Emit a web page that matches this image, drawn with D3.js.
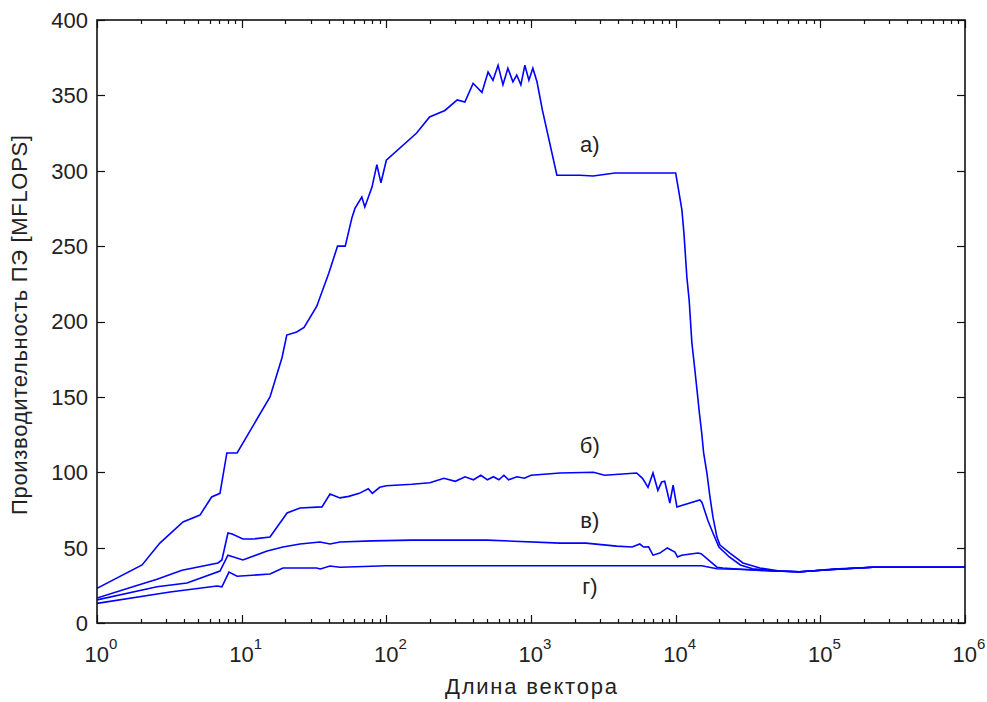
<!DOCTYPE html>
<html>
<head>
<meta charset="utf-8">
<script src="https://cdn.jsdelivr.net/npm/d3@7"></script>
<style>
body { margin: 0; background: #fff; }
text { font-family: "Liberation Sans", Arial, sans-serif; fill: #222; }
</style>
</head>
<body>
<svg width="987" height="702"></svg>
<script>
var width = 987;
var height = 702;
var margin = {left: 97, right: 22, top: 20, bottom: 79};

// series а)
var xA = [1, 2.05, 2.72, 3.93, 5.15, 6.2, 7.08, 7.9, 9.3, 15.7, 19, 20.5, 24, 27, 33, 40, 46, 52,
  57.8, 60.7, 67.7, 71, 79.5, 86, 91.8, 100, 162, 199, 254, 309, 349, 398, 458, 505, 546, 592,
  640, 692, 750, 797, 851, 907, 967, 1030, 1100, 1200, 1510, 2180, 2690, 3800, 10000, 10400,
  11040, 11400, 11950, 12400, 12940, 13500, 14030, 14600, 15140, 15600, 16440, 17260, 18120,
  19290, 20240, 23700, 29200, 38200, 52500, 72000, 122000, 230000, 1000000];
var yA = [23, 38.5, 53, 67, 71.6, 83.6, 86, 112.8, 112.8, 150, 176, 191, 193, 196, 210, 232, 250, 250,
  268.7, 275, 282.6, 276, 289, 304, 292, 307, 325, 335.7, 340, 347, 345.6, 358, 352, 365.5, 360, 370,
  357, 368, 359, 363.5, 357, 370, 360, 368, 359, 340, 297, 297, 296.5, 298.5, 298.5, 289,
  274, 259, 229.5, 214, 186, 170, 155, 139, 126, 113, 99.5, 83.6, 70,
  57, 51.7, 46.4, 39.8, 36.5, 34.5, 33.8, 35.8, 37, 37];

// series б)
var xB = [1, 1.77, 2.6, 3.87, 6.86, 7.3, 8.04, 8.6, 10.2, 12, 15.7, 20.6, 25.3, 35.9, 40.8, 47.8,
  55, 65, 75, 80, 90, 100, 150, 200, 250, 300, 350, 400, 450, 500, 550, 600, 650, 700, 800, 900,
  1000, 1590, 2700, 3230, 5370, 5900, 6440, 6970, 7530, 8000, 8400, 9120, 9600, 10200, 11000,
  14700, 15200, 16700, 18100, 19900, 23500, 28000, 34000, 50000, 72000, 122000, 230000, 1000000];
var yB = [16.6, 24, 29, 35, 39.8, 41.8, 59.7, 59, 55.7, 55.7, 57, 73, 76.3, 77, 85.6, 83,
  84, 86, 89, 86, 90, 91, 92, 93, 96, 94, 97, 95, 98, 95, 97, 95, 98, 95, 97, 96,
  98, 99.5, 100, 98, 99.5, 96, 90, 99.5, 88, 93.5, 94, 79.6, 91.5, 77, 78,
  81.6, 80, 68, 59.7, 50.4, 43.8, 38.5, 36, 34.5, 34, 35.5, 37, 37];

// series в)
var xC = [1, 2.6, 4.19, 7.08, 8.04, 10.2, 15, 19.3, 25.3, 34.8, 40.8, 47.8, 80, 150, 500, 1590,
  2400, 3900, 5000, 5650, 6000, 6500, 6970, 7770, 8750, 9880, 10300, 11000, 14260, 15000, 19290,
  21200, 30000, 45000, 72000, 122000, 230000, 1000000];
var yC = [15.3, 24, 26.5, 34.5, 45, 41.8, 47.8, 50.4, 52.4, 53.7, 52.4, 53.7, 54.5, 55, 55, 53,
  53, 51, 50.4, 52.4, 50.4, 50.5, 45, 46.4, 49.8, 47, 43.8, 45, 46.4, 46, 37,
  36.5, 35.5, 34.5, 34, 35.5, 37, 37];

// series г)
var xD = [1, 3.2, 6.75, 7.3, 8.17, 9.3, 15.7, 19.3, 33, 35, 40.8, 47.8, 70, 100, 1000, 15140,
  19290, 30000, 50000, 72000, 122000, 230000, 1000000];
var yD = [13, 20.6, 24.5, 24, 33.8, 31, 32.5, 36.5, 36.5, 35.8, 37.8, 37, 37.5, 38, 38, 38,
  36, 35.5, 34.5, 34, 35.5, 37, 37];

var seriesNames = ["а)", "б)", "в)", "г)"];
var labelX = [2550, 2550, 2550, 2550];
var labelY = [318, 118, 68, 24.5];

var yTicks = [0, 50, 100, 150, 200, 250, 300, 350, 400];
var xExps = [0, 1, 2, 3, 4, 5, 6];

var x = d3.scaleLog().domain([1, 1e6]).range([margin.left, width - margin.right]);
var y = d3.scaleLinear().domain([0, 400]).range([height - margin.bottom, margin.top]);

var svg = d3.select("svg");
var x0 = x.range()[0], x1 = x.range()[1];
var y0 = y.range()[0], y1 = y.range()[1];

svg.append("clipPath").attr("id", "clip")
  .append("rect").attr("x", x0).attr("y", y1).attr("width", x1 - x0).attr("height", y0 - y1);

var line = d3.line().x(d => x(d[0])).y(d => y(d[1]));
var all = [[xA, yA], [xB, yB], [xC, yC], [xD, yD]];

svg.append("g").attr("clip-path", "url(#clip)")
  .selectAll("path")
  .data(all)
  .join("path")
  .attr("d", d => line(d[0].map((v, i) => [v, d[1][i]])))
  .attr("fill", "none")
  .attr("stroke", "#0000ff")
  .attr("stroke-width", 1.6);

// ticks, all pointing inward
var ticksG = svg.append("g").attr("stroke", "#111").attr("stroke-width", 1.2);
var xt = x.ticks();
xt.forEach(function(t) {
  var major = Math.abs(Math.log10(t) - Math.round(Math.log10(t))) < 1e-9;
  var len = major ? 8 : 4;
  var px = Math.round(x(t)) + 0.5;
  ticksG.append("line").attr("x1", px).attr("x2", px).attr("y1", y0).attr("y2", y0 - len);
  ticksG.append("line").attr("x1", px).attr("x2", px).attr("y1", y1).attr("y2", y1 + len);
});
yTicks.forEach(function(t) {
  var py = Math.round(y(t)) + 0.5;
  ticksG.append("line").attr("x1", x0).attr("x2", x0 + 8).attr("y1", py).attr("y2", py);
  ticksG.append("line").attr("x1", x1).attr("x2", x1 - 8).attr("y1", py).attr("y2", py);
});

svg.append("rect")
  .attr("x", x0).attr("y", y1).attr("width", x1 - x0).attr("height", y0 - y1)
  .attr("fill", "none").attr("stroke", "#111").attr("stroke-width", 1.6);

// y tick labels
svg.append("g").selectAll("text")
  .data(yTicks)
  .join("text")
  .attr("x", x0 - 9)
  .attr("y", d => y(d))
  .attr("dy", "0.36em")
  .attr("text-anchor", "end")
  .attr("font-size", 22)
  .text(d => d);

// x tick labels 10^k
var xl = svg.append("g").selectAll("text")
  .data(xExps)
  .join("text")
  .attr("x", d => x(Math.pow(10, d)) + 4)
  .attr("y", 662)
  .attr("text-anchor", "middle")
  .attr("font-size", 22);
xl.append("tspan").text("10");
xl.append("tspan").attr("dy", -13).attr("font-size", 15).text(d => d);

svg.append("text")
  .attr("x", (x0 + x1) / 2)
  .attr("y", 694)
  .attr("text-anchor", "middle")
  .attr("font-size", 22)
  .attr("textLength", 172)
  .attr("lengthAdjust", "spacing")
  .text("Длина вектора");

svg.append("text")
  .attr("transform", "translate(27," + 325 + ") rotate(-90)")
  .attr("text-anchor", "middle")
  .attr("font-size", 22)
  .attr("textLength", 380)
  .attr("lengthAdjust", "spacing")
  .text("Производительность ПЭ [MFLOPS]");

// curve labels
svg.append("g").selectAll("text")
  .data(seriesNames)
  .join("text")
  .attr("x", (d, i) => x(labelX[i]))
  .attr("y", (d, i) => y(labelY[i]))
  .attr("dy", "0.36em")
  .attr("text-anchor", "middle")
  .attr("font-size", 22)
  .text(d => d);
</script>
</body>
</html>
